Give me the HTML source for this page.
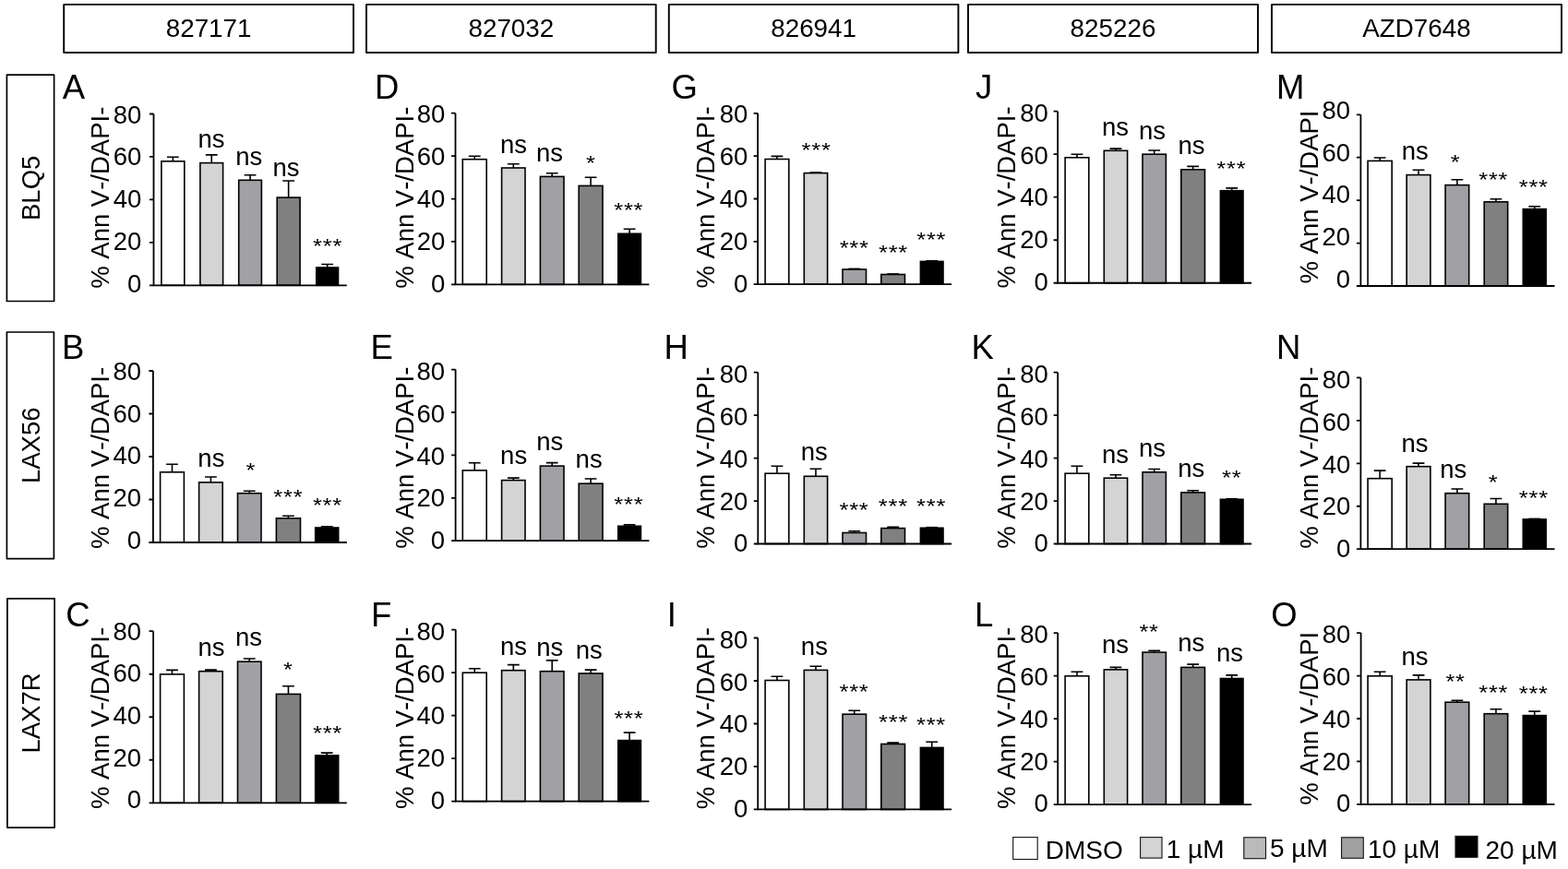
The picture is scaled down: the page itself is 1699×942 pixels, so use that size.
<!DOCTYPE html>
<html><head><meta charset="utf-8"><title>Figure</title>
<style>
html,body{margin:0;padding:0;background:#fff;}
body{width:1699px;height:942px;overflow:hidden;}
svg{display:block;}
text{font-kerning:none;}
.t{font-family:"Liberation Sans",Arial,sans-serif;font-size:27.5px;fill:#000;}
.h{font-family:"Liberation Sans",Arial,sans-serif;font-size:27.8px;fill:#000;}
.g{font-family:"Liberation Sans",Arial,sans-serif;font-size:28.0px;fill:#000;}
.lt{font-family:"Liberation Sans",Arial,sans-serif;font-size:36.5px;fill:#000;}
.hb{fill:none;stroke:#000;stroke-width:1.9;stroke-linejoin:round;}
.rb{fill:none;stroke:#000;stroke-width:1.7;stroke-linejoin:round;}
.bar{stroke:#000;stroke-width:1.6;}
.eb{fill:none;stroke:#000;stroke-width:1.6;}
.ax{fill:none;stroke:#000;stroke-width:1.8;}
.lb{stroke:#1a1a1a;stroke-width:1.15;}
</style></head>
<body><svg width="1699" height="942" viewBox="0 0 1699 942">
<rect x="69.2" y="4.9" width="313.8" height="52.1" class="hb"/>
<text x="226.1" y="40.4" class="h" text-anchor="middle" textLength="92.77" lengthAdjust="spacing">827171</text>
<rect x="397" y="4.9" width="313.7" height="52.1" class="hb"/>
<text x="553.85" y="40.4" class="h" text-anchor="middle" textLength="92.77" lengthAdjust="spacing">827032</text>
<rect x="724.8" y="4.9" width="313.6" height="52.1" class="hb"/>
<text x="881.6" y="40.4" class="h" text-anchor="middle" textLength="92.77" lengthAdjust="spacing">826941</text>
<rect x="1049" y="4.9" width="314" height="52.1" class="hb"/>
<text x="1206" y="40.4" class="h" text-anchor="middle" textLength="92.77" lengthAdjust="spacing">825226</text>
<rect x="1378" y="4.9" width="314" height="52.1" class="hb"/>
<text x="1535" y="40.4" class="h" text-anchor="middle" textLength="117.44" lengthAdjust="spacing">AZD7648</text>
<rect x="7.4" y="81.2" width="51.2" height="245.3" class="rb"/>
<text transform="translate(43,203.85) rotate(-90)" class="t" text-anchor="middle" textLength="70.32" lengthAdjust="spacing">BLQ5</text>
<rect x="7.4" y="360" width="51" height="245.6" class="rb"/>
<text transform="translate(43,482.8) rotate(-90)" class="t" text-anchor="middle" textLength="82.57" lengthAdjust="spacing">LAX56</text>
<rect x="7.9" y="648.9" width="51.2" height="248.2" class="rb"/>
<text transform="translate(43,773) rotate(-90)" class="t" text-anchor="middle" textLength="87.13" lengthAdjust="spacing">LAX7R</text>
<path d="M187.35 174.8V170.3M180.95 170.3H193.75" class="eb"/>
<rect x="174.9" y="174.8" width="24.9" height="134.5" fill="#ffffff" class="bar"/>
<path d="M229.25 176.6V167.9M222.85 167.9H235.65" class="eb"/>
<rect x="216.9" y="176.6" width="24.7" height="132.7" fill="#d4d4d4" class="bar"/>
<text x="228.94" y="160" class="t" text-anchor="middle" textLength="29.04" lengthAdjust="spacing">ns</text>
<path d="M271.05 195.3V189.7M264.65 189.7H277.45" class="eb"/>
<rect x="258.7" y="195.3" width="24.7" height="114" fill="#a1a0a5" class="bar"/>
<text x="269.69" y="179.2" class="t" text-anchor="middle" textLength="29.04" lengthAdjust="spacing">ns</text>
<path d="M312.65 214.1V196M306.25 196H319.05" class="eb"/>
<rect x="300.2" y="214.1" width="24.9" height="95.2" fill="#808080" class="bar"/>
<text x="309.99" y="191.2" class="t" text-anchor="middle" textLength="29.04" lengthAdjust="spacing">ns</text>
<path d="M354.65 290V286.5M348.25 286.5H361.05" class="eb"/>
<rect x="342.8" y="290" width="23.7" height="19.3" fill="#000000" class="bar"/>
<text transform="translate(339.11,273.61) scale(0.93,0.82)" x="0 11.45 22.9" y="0" class="t">***</text>
<path d="M166.5 123.5V309.3H375.8" class="ax"/>
<path d="M162 309.3H166.5M162 262.85H166.5M162 216.4H166.5M162 169.95H166.5M162 123.5H166.5" class="ax"/>
<text x="153.27" y="316.76" class="t" text-anchor="end">0</text>
<text x="153.27" y="270.97" class="t" text-anchor="end" textLength="30.59" lengthAdjust="spacing">20</text>
<text x="153.27" y="225.19" class="t" text-anchor="end" textLength="30.59" lengthAdjust="spacing">40</text>
<text x="153.27" y="179.4" class="t" text-anchor="end" textLength="30.59" lengthAdjust="spacing">60</text>
<text x="153.27" y="133.61" class="t" text-anchor="end" textLength="30.59" lengthAdjust="spacing">80</text>
<text transform="translate(117.6,312.79) rotate(-90)" class="t" textLength="197.15" lengthAdjust="spacing">% Ann V-/DAPI-</text>
<text x="67.83" y="107" class="lt">A</text>
<path d="M514.25 172.7V169.3M507.85 169.3H520.65" class="eb"/>
<rect x="501.3" y="172.7" width="25.9" height="135.65" fill="#ffffff" class="bar"/>
<path d="M556.3 182V177.8M549.9 177.8H562.7" class="eb"/>
<rect x="543.6" y="182" width="25.4" height="126.35" fill="#d4d4d4" class="bar"/>
<text x="556.49" y="166.2" class="t" text-anchor="middle" textLength="29.04" lengthAdjust="spacing">ns</text>
<path d="M598.2 191.4V187.8M591.8 187.8H604.6" class="eb"/>
<rect x="585.4" y="191.4" width="25.6" height="116.95" fill="#a1a0a5" class="bar"/>
<text x="595.59" y="175.4" class="t" text-anchor="middle" textLength="29.04" lengthAdjust="spacing">ns</text>
<path d="M640.1 201.4V192.2M633.7 192.2H646.5" class="eb"/>
<rect x="627.2" y="201.4" width="25.8" height="106.95" fill="#808080" class="bar"/>
<text transform="translate(635.01,183.91) scale(0.93,0.82)" x="0" y="0" class="t">*</text>
<path d="M682.1 253.3V248.3M675.7 248.3H688.5" class="eb"/>
<rect x="669.8" y="253.3" width="24.6" height="55.05" fill="#000000" class="bar"/>
<text transform="translate(665.26,235.21) scale(0.93,0.82)" x="0 11.45 22.9" y="0" class="t">***</text>
<path d="M493.5 122.7V308.35H703.4" class="ax"/>
<path d="M489 308.35H493.5M489 261.94H493.5M489 215.53H493.5M489 169.11H493.5M489 122.7H493.5" class="ax"/>
<text x="482.32" y="316.66" class="t" text-anchor="end">0</text>
<text x="482.32" y="270.86" class="t" text-anchor="end" textLength="30.59" lengthAdjust="spacing">20</text>
<text x="482.32" y="225.06" class="t" text-anchor="end" textLength="30.59" lengthAdjust="spacing">40</text>
<text x="482.32" y="179.26" class="t" text-anchor="end" textLength="30.59" lengthAdjust="spacing">60</text>
<text x="482.32" y="133.46" class="t" text-anchor="end" textLength="30.59" lengthAdjust="spacing">80</text>
<text transform="translate(447.9,312.79) rotate(-90)" class="t" textLength="197.15" lengthAdjust="spacing">% Ann V-/DAPI-</text>
<text x="405.91" y="106.7" class="lt">D</text>
<path d="M841.95 172.5V169.4M835.55 169.4H848.35" class="eb"/>
<rect x="829.1" y="172.5" width="25.7" height="135.7" fill="#ffffff" class="bar"/>
<path d="M877.55 187H890.35" class="eb"/>
<rect x="871.3" y="187.6" width="25.3" height="120.6" fill="#d4d4d4" class="bar"/>
<text transform="translate(868.61,170.11) scale(0.93,0.82)" x="0 11.45 22.9" y="0" class="t">***</text>
<path d="M919.35 291.4H932.15" class="eb"/>
<rect x="913" y="292" width="25.5" height="16.2" fill="#a1a0a5" class="bar"/>
<text transform="translate(909.66,275.71) scale(0.93,0.82)" x="0 11.45 22.9" y="0" class="t">***</text>
<path d="M961.25 297H974.05" class="eb"/>
<rect x="954.8" y="297.5" width="25.7" height="10.7" fill="#808080" class="bar"/>
<text transform="translate(952.06,280.81) scale(0.93,0.82)" x="0 11.45 22.9" y="0" class="t">***</text>
<path d="M1003.3 282.8H1016.1" class="eb"/>
<rect x="997.4" y="283.4" width="24.6" height="24.8" fill="#000000" class="bar"/>
<text transform="translate(993.26,267.31) scale(0.93,0.82)" x="0 11.45 22.9" y="0" class="t">***</text>
<path d="M821.1 122.8V308.2H1031.1" class="ax"/>
<path d="M816.6 308.2H821.1M816.6 261.85H821.1M816.6 215.5H821.1M816.6 169.15H821.1M816.6 122.8H821.1" class="ax"/>
<text x="810.42" y="316.71" class="t" text-anchor="end">0</text>
<text x="810.42" y="270.88" class="t" text-anchor="end" textLength="30.59" lengthAdjust="spacing">20</text>
<text x="810.42" y="225.06" class="t" text-anchor="end" textLength="30.59" lengthAdjust="spacing">40</text>
<text x="810.42" y="179.24" class="t" text-anchor="end" textLength="30.59" lengthAdjust="spacing">60</text>
<text x="810.42" y="133.41" class="t" text-anchor="end" textLength="30.59" lengthAdjust="spacing">80</text>
<text transform="translate(774.1,312.59) rotate(-90)" class="t" textLength="197.15" lengthAdjust="spacing">% Ann V-/DAPI-</text>
<text x="727.47" y="106.8" class="lt">G</text>
<path d="M1166.95 170.8V167.2M1160.55 167.2H1173.35" class="eb"/>
<rect x="1154.1" y="170.8" width="25.7" height="135.95" fill="#ffffff" class="bar"/>
<path d="M1208.95 163.3V161.1M1202.55 161.1H1215.35" class="eb"/>
<rect x="1196.3" y="163.3" width="25.3" height="143.45" fill="#d4d4d4" class="bar"/>
<text x="1208.49" y="147.2" class="t" text-anchor="middle" textLength="29.04" lengthAdjust="spacing">ns</text>
<path d="M1250.7 167.2V163M1244.3 163H1257.1" class="eb"/>
<rect x="1238" y="167.2" width="25.4" height="139.55" fill="#a1a0a5" class="bar"/>
<text x="1248.44" y="151.1" class="t" text-anchor="middle" textLength="29.04" lengthAdjust="spacing">ns</text>
<path d="M1292.65 183.8V180.4M1286.25 180.4H1299.05" class="eb"/>
<rect x="1279.8" y="183.8" width="25.7" height="122.95" fill="#808080" class="bar"/>
<text x="1290.94" y="167.3" class="t" text-anchor="middle" textLength="29.04" lengthAdjust="spacing">ns</text>
<path d="M1334.7 206.7V203.9M1328.3 203.9H1341.1" class="eb"/>
<rect x="1322.4" y="206.7" width="24.6" height="100.05" fill="#000000" class="bar"/>
<text transform="translate(1318.36,190.21) scale(0.93,0.82)" x="0 11.45 22.9" y="0" class="t">***</text>
<path d="M1146.1 120.7V306.75H1356.1" class="ax"/>
<path d="M1141.6 306.75H1146.1M1141.6 260.24H1146.1M1141.6 213.72H1146.1M1141.6 167.21H1146.1M1141.6 120.7H1146.1" class="ax"/>
<text x="1135.87" y="315.21" class="t" text-anchor="end">0</text>
<text x="1135.87" y="269.35" class="t" text-anchor="end" textLength="30.59" lengthAdjust="spacing">20</text>
<text x="1135.87" y="223.49" class="t" text-anchor="end" textLength="30.59" lengthAdjust="spacing">40</text>
<text x="1135.87" y="177.62" class="t" text-anchor="end" textLength="30.59" lengthAdjust="spacing">60</text>
<text x="1135.87" y="131.76" class="t" text-anchor="end" textLength="30.59" lengthAdjust="spacing">80</text>
<text transform="translate(1100,312.49) rotate(-90)" class="t" textLength="197.15" lengthAdjust="spacing">% Ann V-/DAPI-</text>
<text x="1057.02" y="107" class="lt">J</text>
<path d="M1495.15 174.4V171M1488.75 171H1501.55" class="eb"/>
<rect x="1482.1" y="174.4" width="26.1" height="135.6" fill="#ffffff" class="bar"/>
<path d="M1537.05 189.6V184.3M1530.65 184.3H1543.45" class="eb"/>
<rect x="1524.2" y="189.6" width="25.7" height="120.4" fill="#d4d4d4" class="bar"/>
<text x="1533.24" y="173.2" class="t" text-anchor="middle" textLength="29.04" lengthAdjust="spacing">ns</text>
<path d="M1578.9 200.6V194.8M1572.5 194.8H1585.3" class="eb"/>
<rect x="1566.1" y="200.6" width="25.6" height="109.4" fill="#a1a0a5" class="bar"/>
<text transform="translate(1571.71,182.71) scale(0.93,0.82)" x="0" y="0" class="t">*</text>
<path d="M1620.95 218.8V215.8M1614.55 215.8H1627.35" class="eb"/>
<rect x="1608.2" y="218.8" width="25.5" height="91.2" fill="#808080" class="bar"/>
<text transform="translate(1602.26,201.51) scale(0.93,0.82)" x="0 11.45 22.9" y="0" class="t">***</text>
<path d="M1662.75 226.6V223.8M1656.35 223.8H1669.15" class="eb"/>
<rect x="1650.3" y="226.6" width="24.9" height="83.4" fill="#000000" class="bar"/>
<text transform="translate(1645.81,209.71) scale(0.93,0.82)" x="0 11.45 22.9" y="0" class="t">***</text>
<path d="M1474.4 124.3V310H1684.5" class="ax"/>
<path d="M1469.9 310H1474.4M1469.9 263.57H1474.4M1469.9 217.15H1474.4M1469.9 170.72H1474.4M1469.9 124.3H1474.4" class="ax"/>
<text x="1463.17" y="311.66" class="t" text-anchor="end">0</text>
<text x="1463.17" y="266.07" class="t" text-anchor="end" textLength="30.59" lengthAdjust="spacing">20</text>
<text x="1463.17" y="220.48" class="t" text-anchor="end" textLength="30.59" lengthAdjust="spacing">40</text>
<text x="1463.17" y="174.9" class="t" text-anchor="end" textLength="30.59" lengthAdjust="spacing">60</text>
<text x="1463.17" y="129.31" class="t" text-anchor="end" textLength="30.59" lengthAdjust="spacing">80</text>
<text transform="translate(1428,307.49) rotate(-90)" class="t" textLength="187.99" lengthAdjust="spacing">% Ann V-/DAPI</text>
<text x="1382.91" y="106.8" class="lt">M</text>
<path d="M186.5 511.8V503.2M180.1 503.2H192.9" class="eb"/>
<rect x="173.6" y="511.8" width="25.8" height="76.2" fill="#ffffff" class="bar"/>
<path d="M228.4 522.9V517M222 517H234.8" class="eb"/>
<rect x="215.6" y="522.9" width="25.6" height="65.1" fill="#d4d4d4" class="bar"/>
<text x="228.89" y="505.6" class="t" text-anchor="middle" textLength="29.04" lengthAdjust="spacing">ns</text>
<path d="M270.25 534.7V532.2M263.85 532.2H276.65" class="eb"/>
<rect x="257.5" y="534.7" width="25.5" height="53.3" fill="#a1a0a5" class="bar"/>
<text transform="translate(266.56,517.41) scale(0.93,0.82)" x="0" y="0" class="t">*</text>
<path d="M312.45 561.8V559.3M306.05 559.3H318.85" class="eb"/>
<rect x="299.4" y="561.8" width="26.1" height="26.2" fill="#808080" class="bar"/>
<text transform="translate(296.36,545.91) scale(0.93,0.82)" x="0 11.45 22.9" y="0" class="t">***</text>
<path d="M354.2 572V570.9M347.8 570.9H360.6" class="eb"/>
<rect x="341.7" y="572" width="25" height="16" fill="#000000" class="bar"/>
<text transform="translate(338.96,555.41) scale(0.93,0.82)" x="0 11.45 22.9" y="0" class="t">***</text>
<path d="M165.9 402V588H375.8" class="ax"/>
<path d="M161.4 588H165.9M161.4 541.5H165.9M161.4 495H165.9M161.4 448.5H165.9M161.4 402H165.9" class="ax"/>
<text x="153.07" y="594.61" class="t" text-anchor="end">0</text>
<text x="153.07" y="549" class="t" text-anchor="end" textLength="30.59" lengthAdjust="spacing">20</text>
<text x="153.07" y="503.38" class="t" text-anchor="end" textLength="30.59" lengthAdjust="spacing">40</text>
<text x="153.07" y="457.77" class="t" text-anchor="end" textLength="30.59" lengthAdjust="spacing">60</text>
<text x="153.07" y="412.16" class="t" text-anchor="end" textLength="30.59" lengthAdjust="spacing">80</text>
<text transform="translate(117.6,594.99) rotate(-90)" class="t" textLength="197.15" lengthAdjust="spacing">% Ann V-/DAPI-</text>
<text x="67.11" y="388.9" class="lt">B</text>
<path d="M514.25 509.9V501.8M507.85 501.8H520.65" class="eb"/>
<rect x="501.3" y="509.9" width="25.9" height="76.3" fill="#ffffff" class="bar"/>
<path d="M556.3 520.6V518.1M549.9 518.1H562.7" class="eb"/>
<rect x="543.6" y="520.6" width="25.4" height="65.6" fill="#d4d4d4" class="bar"/>
<text x="556.64" y="503.2" class="t" text-anchor="middle" textLength="29.04" lengthAdjust="spacing">ns</text>
<path d="M598.2 505.1V501.6M591.8 501.6H604.6" class="eb"/>
<rect x="585.4" y="505.1" width="25.6" height="81.1" fill="#a1a0a5" class="bar"/>
<text x="595.79" y="488.1" class="t" text-anchor="middle" textLength="29.04" lengthAdjust="spacing">ns</text>
<path d="M640.1 524.2V519M633.7 519H646.5" class="eb"/>
<rect x="627.2" y="524.2" width="25.8" height="62" fill="#808080" class="bar"/>
<text x="638.14" y="507.1" class="t" text-anchor="middle" textLength="29.04" lengthAdjust="spacing">ns</text>
<path d="M682.1 570.3V568.9M675.7 568.9H688.5" class="eb"/>
<rect x="669.8" y="570.3" width="24.6" height="15.9" fill="#000000" class="bar"/>
<text transform="translate(665.36,554.31) scale(0.93,0.82)" x="0 11.45 22.9" y="0" class="t">***</text>
<path d="M493.6 400.6V586.2H703.4" class="ax"/>
<path d="M489.1 586.2H493.6M489.1 539.8H493.6M489.1 493.4H493.6M489.1 447H493.6M489.1 400.6H493.6" class="ax"/>
<text x="482.12" y="595.21" class="t" text-anchor="end">0</text>
<text x="482.12" y="549.45" class="t" text-anchor="end" textLength="30.59" lengthAdjust="spacing">20</text>
<text x="482.12" y="503.69" class="t" text-anchor="end" textLength="30.59" lengthAdjust="spacing">40</text>
<text x="482.12" y="457.92" class="t" text-anchor="end" textLength="30.59" lengthAdjust="spacing">60</text>
<text x="482.12" y="412.16" class="t" text-anchor="end" textLength="30.59" lengthAdjust="spacing">80</text>
<text transform="translate(447.8,594.79) rotate(-90)" class="t" textLength="197.15" lengthAdjust="spacing">% Ann V-/DAPI-</text>
<text x="401.41" y="388.9" class="lt">E</text>
<path d="M841.95 513.2V505.2M835.55 505.2H848.35" class="eb"/>
<rect x="829.1" y="513.2" width="25.7" height="76.3" fill="#ffffff" class="bar"/>
<path d="M883.95 516.3V508.2M877.55 508.2H890.35" class="eb"/>
<rect x="871.3" y="516.3" width="25.3" height="73.2" fill="#d4d4d4" class="bar"/>
<text x="882.24" y="499.1" class="t" text-anchor="middle" textLength="29.04" lengthAdjust="spacing">ns</text>
<path d="M925.75 577.5V575.8M919.35 575.8H932.15" class="eb"/>
<rect x="913" y="577.5" width="25.5" height="12" fill="#a1a0a5" class="bar"/>
<text transform="translate(909.56,559.71) scale(0.93,0.82)" x="0 11.45 22.9" y="0" class="t">***</text>
<path d="M967.65 572.6V571.4M961.25 571.4H974.05" class="eb"/>
<rect x="954.8" y="572.6" width="25.7" height="16.9" fill="#808080" class="bar"/>
<text transform="translate(951.86,555.71) scale(0.93,0.82)" x="0 11.45 22.9" y="0" class="t">***</text>
<path d="M1003.3 571.7H1016.1" class="eb"/>
<rect x="997.4" y="572.3" width="24.6" height="17.2" fill="#000000" class="bar"/>
<text transform="translate(993.11,555.71) scale(0.93,0.82)" x="0 11.45 22.9" y="0" class="t">***</text>
<path d="M821.3 403.7V589.5H1031.1" class="ax"/>
<path d="M816.8 589.5H821.3M816.8 543.05H821.3M816.8 496.6H821.3M816.8 450.15H821.3M816.8 403.7H821.3" class="ax"/>
<text x="810.42" y="598.41" class="t" text-anchor="end">0</text>
<text x="810.42" y="552.64" class="t" text-anchor="end" textLength="30.59" lengthAdjust="spacing">20</text>
<text x="810.42" y="506.86" class="t" text-anchor="end" textLength="30.59" lengthAdjust="spacing">40</text>
<text x="810.42" y="461.08" class="t" text-anchor="end" textLength="30.59" lengthAdjust="spacing">60</text>
<text x="810.42" y="415.31" class="t" text-anchor="end" textLength="30.59" lengthAdjust="spacing">80</text>
<text transform="translate(774,594.79) rotate(-90)" class="t" textLength="197.15" lengthAdjust="spacing">% Ann V-/DAPI-</text>
<text x="719.51" y="388.9" class="lt">H</text>
<path d="M1166.95 513.2V505.2M1160.55 505.2H1173.35" class="eb"/>
<rect x="1154.1" y="513.2" width="25.7" height="76.3" fill="#ffffff" class="bar"/>
<path d="M1208.95 518.2V514.8M1202.55 514.8H1215.35" class="eb"/>
<rect x="1196.3" y="518.2" width="25.3" height="71.3" fill="#d4d4d4" class="bar"/>
<text x="1208.49" y="501.6" class="t" text-anchor="middle" textLength="29.04" lengthAdjust="spacing">ns</text>
<path d="M1250.7 511.8V508.5M1244.3 508.5H1257.1" class="eb"/>
<rect x="1238" y="511.8" width="25.4" height="77.7" fill="#a1a0a5" class="bar"/>
<text x="1248.44" y="495.1" class="t" text-anchor="middle" textLength="29.04" lengthAdjust="spacing">ns</text>
<path d="M1292.65 533.9V531.7M1286.25 531.7H1299.05" class="eb"/>
<rect x="1279.8" y="533.9" width="25.7" height="55.6" fill="#808080" class="bar"/>
<text x="1290.79" y="517.4" class="t" text-anchor="middle" textLength="29.04" lengthAdjust="spacing">ns</text>
<path d="M1328.3 540.7H1341.1" class="eb"/>
<rect x="1322.4" y="541.3" width="24.6" height="48.2" fill="#000000" class="bar"/>
<text transform="translate(1323.99,524.71) scale(0.93,0.82)" x="0 11.45" y="0" class="t">**</text>
<path d="M1146.2 403.7V589.5H1356.1" class="ax"/>
<path d="M1141.7 589.5H1146.2M1141.7 543.05H1146.2M1141.7 496.6H1146.2M1141.7 450.15H1146.2M1141.7 403.7H1146.2" class="ax"/>
<text x="1135.87" y="598.41" class="t" text-anchor="end">0</text>
<text x="1135.87" y="552.65" class="t" text-anchor="end" textLength="30.59" lengthAdjust="spacing">20</text>
<text x="1135.87" y="506.88" class="t" text-anchor="end" textLength="30.59" lengthAdjust="spacing">40</text>
<text x="1135.87" y="461.12" class="t" text-anchor="end" textLength="30.59" lengthAdjust="spacing">60</text>
<text x="1135.87" y="415.36" class="t" text-anchor="end" textLength="30.59" lengthAdjust="spacing">80</text>
<text transform="translate(1100,594.79) rotate(-90)" class="t" textLength="197.15" lengthAdjust="spacing">% Ann V-/DAPI-</text>
<text x="1052.61" y="389" class="lt">K</text>
<path d="M1495.15 518.7V510.1M1488.75 510.1H1501.55" class="eb"/>
<rect x="1482.1" y="518.7" width="26.1" height="76.5" fill="#ffffff" class="bar"/>
<path d="M1537.05 505.7V502.1M1530.65 502.1H1543.45" class="eb"/>
<rect x="1524.2" y="505.7" width="25.7" height="89.5" fill="#d4d4d4" class="bar"/>
<text x="1533.09" y="489.6" class="t" text-anchor="middle" textLength="29.04" lengthAdjust="spacing">ns</text>
<path d="M1578.9 534.7V530M1572.5 530H1585.3" class="eb"/>
<rect x="1566.1" y="534.7" width="25.6" height="60.5" fill="#a1a0a5" class="bar"/>
<text x="1574.69" y="518.1" class="t" text-anchor="middle" textLength="29.04" lengthAdjust="spacing">ns</text>
<path d="M1620.95 546.3V540.5M1614.55 540.5H1627.35" class="eb"/>
<rect x="1608.2" y="546.3" width="25.5" height="48.9" fill="#808080" class="bar"/>
<text transform="translate(1612.66,530.11) scale(0.93,0.82)" x="0" y="0" class="t">*</text>
<path d="M1656.35 562.4H1669.15" class="eb"/>
<rect x="1650.3" y="562.9" width="24.9" height="32.3" fill="#000000" class="bar"/>
<text transform="translate(1645.86,546.91) scale(0.93,0.82)" x="0 11.45 22.9" y="0" class="t">***</text>
<path d="M1474.4 409.4V595.2H1684.5" class="ax"/>
<path d="M1469.9 595.2H1474.4M1469.9 548.75H1474.4M1469.9 502.3H1474.4M1469.9 455.85H1474.4M1469.9 409.4H1474.4" class="ax"/>
<text x="1463.22" y="604.06" class="t" text-anchor="end">0</text>
<text x="1463.22" y="558.37" class="t" text-anchor="end" textLength="30.59" lengthAdjust="spacing">20</text>
<text x="1463.22" y="512.69" class="t" text-anchor="end" textLength="30.59" lengthAdjust="spacing">40</text>
<text x="1463.22" y="467" class="t" text-anchor="end" textLength="30.59" lengthAdjust="spacing">60</text>
<text x="1463.22" y="421.31" class="t" text-anchor="end" textLength="30.59" lengthAdjust="spacing">80</text>
<text transform="translate(1428.4,594.79) rotate(-90)" class="t" textLength="197.15" lengthAdjust="spacing">% Ann V-/DAPI-</text>
<text x="1383.01" y="389.1" class="lt">N</text>
<path d="M186.5 730.9V726.4M180.1 726.4H192.9" class="eb"/>
<rect x="173.6" y="730.9" width="25.8" height="139.4" fill="#ffffff" class="bar"/>
<path d="M228.4 727.7V726.1M222 726.1H234.8" class="eb"/>
<rect x="215.6" y="727.7" width="25.6" height="142.6" fill="#d4d4d4" class="bar"/>
<text x="229.04" y="711" class="t" text-anchor="middle" textLength="29.04" lengthAdjust="spacing">ns</text>
<path d="M270.25 717.2V714M263.85 714H276.65" class="eb"/>
<rect x="257.5" y="717.2" width="25.5" height="153.1" fill="#a1a0a5" class="bar"/>
<text x="269.44" y="700.4" class="t" text-anchor="middle" textLength="29.04" lengthAdjust="spacing">ns</text>
<path d="M312.45 752.4V743.8M306.05 743.8H318.85" class="eb"/>
<rect x="299.4" y="752.4" width="26.1" height="117.9" fill="#808080" class="bar"/>
<text transform="translate(307.01,732.91) scale(0.93,0.82)" x="0" y="0" class="t">*</text>
<path d="M354.2 818.9V816.1M347.8 816.1H360.6" class="eb"/>
<rect x="341.7" y="818.9" width="25" height="51.4" fill="#000000" class="bar"/>
<text transform="translate(339.06,802.31) scale(0.93,0.82)" x="0 11.45 22.9" y="0" class="t">***</text>
<path d="M166.1 684.2V870.3H375.8" class="ax"/>
<path d="M161.6 870.3H166.1M161.6 823.77H166.1M161.6 777.25H166.1M161.6 730.73H166.1M161.6 684.2H166.1" class="ax"/>
<text x="153.07" y="876.41" class="t" text-anchor="end">0</text>
<text x="153.07" y="830.72" class="t" text-anchor="end" textLength="30.59" lengthAdjust="spacing">20</text>
<text x="153.07" y="785.04" class="t" text-anchor="end" textLength="30.59" lengthAdjust="spacing">40</text>
<text x="153.07" y="739.35" class="t" text-anchor="end" textLength="30.59" lengthAdjust="spacing">60</text>
<text x="153.07" y="693.66" class="t" text-anchor="end" textLength="30.59" lengthAdjust="spacing">80</text>
<text transform="translate(117.6,876.99) rotate(-90)" class="t" textLength="197.15" lengthAdjust="spacing">% Ann V-/DAPI-</text>
<text x="71.14" y="679.1" class="lt">C</text>
<path d="M514.25 729.2V724.8M507.85 724.8H520.65" class="eb"/>
<rect x="501.3" y="729.2" width="25.9" height="139.4" fill="#ffffff" class="bar"/>
<path d="M556.3 726.7V720.6M549.9 720.6H562.7" class="eb"/>
<rect x="543.6" y="726.7" width="25.4" height="141.9" fill="#d4d4d4" class="bar"/>
<text x="556.54" y="710" class="t" text-anchor="middle" textLength="29.04" lengthAdjust="spacing">ns</text>
<path d="M598.2 727.7V715.9M591.8 715.9H604.6" class="eb"/>
<rect x="585.4" y="727.7" width="25.6" height="140.9" fill="#a1a0a5" class="bar"/>
<text x="595.79" y="710.6" class="t" text-anchor="middle" textLength="29.04" lengthAdjust="spacing">ns</text>
<path d="M640.1 730V726.1M633.7 726.1H646.5" class="eb"/>
<rect x="627.2" y="730" width="25.8" height="138.6" fill="#808080" class="bar"/>
<text x="638.29" y="713.7" class="t" text-anchor="middle" textLength="29.04" lengthAdjust="spacing">ns</text>
<path d="M682.1 802.6V794.1M675.7 794.1H688.5" class="eb"/>
<rect x="669.8" y="802.6" width="24.6" height="66" fill="#000000" class="bar"/>
<text transform="translate(665.41,786.01) scale(0.93,0.82)" x="0 11.45 22.9" y="0" class="t">***</text>
<path d="M493.75 682.6V868.6H703.4" class="ax"/>
<path d="M489.25 868.6H493.75M489.25 822.1H493.75M489.25 775.6H493.75M489.25 729.1H493.75M489.25 682.6H493.75" class="ax"/>
<text x="482.12" y="877.11" class="t" text-anchor="end">0</text>
<text x="482.12" y="831.25" class="t" text-anchor="end" textLength="30.59" lengthAdjust="spacing">20</text>
<text x="482.12" y="785.38" class="t" text-anchor="end" textLength="30.59" lengthAdjust="spacing">40</text>
<text x="482.12" y="739.52" class="t" text-anchor="end" textLength="30.59" lengthAdjust="spacing">60</text>
<text x="482.12" y="693.66" class="t" text-anchor="end" textLength="30.59" lengthAdjust="spacing">80</text>
<text transform="translate(447.8,876.99) rotate(-90)" class="t" textLength="197.15" lengthAdjust="spacing">% Ann V-/DAPI-</text>
<text x="402.01" y="678.8" class="lt">F</text>
<path d="M841.95 737.5V733.3M835.55 733.3H848.35" class="eb"/>
<rect x="829.1" y="737.5" width="25.7" height="139.95" fill="#ffffff" class="bar"/>
<path d="M883.95 726.4V722.3M877.55 722.3H890.35" class="eb"/>
<rect x="871.3" y="726.4" width="25.3" height="151.05" fill="#d4d4d4" class="bar"/>
<text x="882.39" y="709.7" class="t" text-anchor="middle" textLength="29.04" lengthAdjust="spacing">ns</text>
<path d="M925.75 774.2V770.3M919.35 770.3H932.15" class="eb"/>
<rect x="913" y="774.2" width="25.5" height="103.25" fill="#a1a0a5" class="bar"/>
<text transform="translate(909.56,757.41) scale(0.93,0.82)" x="0 11.45 22.9" y="0" class="t">***</text>
<path d="M967.65 806.5V805.1M961.25 805.1H974.05" class="eb"/>
<rect x="954.8" y="806.5" width="25.7" height="70.95" fill="#808080" class="bar"/>
<text transform="translate(952.11,790.21) scale(0.93,0.82)" x="0 11.45 22.9" y="0" class="t">***</text>
<path d="M1009.7 810.4V804.3M1003.3 804.3H1016.1" class="eb"/>
<rect x="997.4" y="810.4" width="24.6" height="67.05" fill="#000000" class="bar"/>
<text transform="translate(993.06,793.21) scale(0.93,0.82)" x="0 11.45 22.9" y="0" class="t">***</text>
<path d="M821.2 691.5V877.45H1031.1" class="ax"/>
<path d="M816.7 877.45H821.2M816.7 830.96H821.2M816.7 784.48H821.2M816.7 737.99H821.2M816.7 691.5H821.2" class="ax"/>
<text x="810.37" y="885.66" class="t" text-anchor="end">0</text>
<text x="810.37" y="840.01" class="t" text-anchor="end" textLength="30.59" lengthAdjust="spacing">20</text>
<text x="810.37" y="794.36" class="t" text-anchor="end" textLength="30.59" lengthAdjust="spacing">40</text>
<text x="810.37" y="748.71" class="t" text-anchor="end" textLength="30.59" lengthAdjust="spacing">60</text>
<text x="810.37" y="703.06" class="t" text-anchor="end" textLength="30.59" lengthAdjust="spacing">80</text>
<text transform="translate(774,877.19) rotate(-90)" class="t" textLength="197.15" lengthAdjust="spacing">% Ann V-/DAPI-</text>
<text x="722.64" y="678.8" class="lt">I</text>
<path d="M1166.95 732.8V728.3M1160.55 728.3H1173.35" class="eb"/>
<rect x="1154.1" y="732.8" width="25.7" height="139.25" fill="#ffffff" class="bar"/>
<path d="M1208.95 725.9V723.4M1202.55 723.4H1215.35" class="eb"/>
<rect x="1196.3" y="725.9" width="25.3" height="146.15" fill="#d4d4d4" class="bar"/>
<text x="1208.49" y="708.3" class="t" text-anchor="middle" textLength="29.04" lengthAdjust="spacing">ns</text>
<path d="M1250.7 707.1V705.2M1244.3 705.2H1257.1" class="eb"/>
<rect x="1238" y="707.1" width="25.4" height="164.95" fill="#a1a0a5" class="bar"/>
<text transform="translate(1234.39,691.81) scale(0.93,0.82)" x="0 11.45" y="0" class="t">**</text>
<path d="M1292.65 723.4V720.1M1286.25 720.1H1299.05" class="eb"/>
<rect x="1279.8" y="723.4" width="25.7" height="148.65" fill="#808080" class="bar"/>
<text x="1290.79" y="705.6" class="t" text-anchor="middle" textLength="29.04" lengthAdjust="spacing">ns</text>
<path d="M1334.7 735.5V731.9M1328.3 731.9H1341.1" class="eb"/>
<rect x="1322.4" y="735.5" width="24.6" height="136.55" fill="#000000" class="bar"/>
<text x="1332.44" y="717.3" class="t" text-anchor="middle" textLength="29.04" lengthAdjust="spacing">ns</text>
<path d="M1146.2 686.1V872.05H1356.1" class="ax"/>
<path d="M1141.7 872.05H1146.2M1141.7 825.56H1146.2M1141.7 779.08H1146.2M1141.7 732.59H1146.2M1141.7 686.1H1146.2" class="ax"/>
<text x="1135.87" y="880.41" class="t" text-anchor="end">0</text>
<text x="1135.87" y="834.66" class="t" text-anchor="end" textLength="30.59" lengthAdjust="spacing">20</text>
<text x="1135.87" y="788.91" class="t" text-anchor="end" textLength="30.59" lengthAdjust="spacing">40</text>
<text x="1135.87" y="743.16" class="t" text-anchor="end" textLength="30.59" lengthAdjust="spacing">60</text>
<text x="1135.87" y="697.41" class="t" text-anchor="end" textLength="30.59" lengthAdjust="spacing">80</text>
<text transform="translate(1100,876.89) rotate(-90)" class="t" textLength="197.15" lengthAdjust="spacing">% Ann V-/DAPI-</text>
<text x="1055.91" y="678.8" class="lt">L</text>
<path d="M1495.15 732.8V728.3M1488.75 728.3H1501.55" class="eb"/>
<rect x="1482.1" y="732.8" width="26.1" height="139.05" fill="#ffffff" class="bar"/>
<path d="M1537.05 736.9V731.9M1530.65 731.9H1543.45" class="eb"/>
<rect x="1524.2" y="736.9" width="25.7" height="134.95" fill="#d4d4d4" class="bar"/>
<text x="1533.09" y="721" class="t" text-anchor="middle" textLength="29.04" lengthAdjust="spacing">ns</text>
<path d="M1578.9 761.2V759.3M1572.5 759.3H1585.3" class="eb"/>
<rect x="1566.1" y="761.2" width="25.6" height="110.65" fill="#a1a0a5" class="bar"/>
<text transform="translate(1566.39,745.61) scale(0.93,0.82)" x="0 11.45" y="0" class="t">**</text>
<path d="M1620.95 773.7V768.7M1614.55 768.7H1627.35" class="eb"/>
<rect x="1608.2" y="773.7" width="25.5" height="98.15" fill="#808080" class="bar"/>
<text transform="translate(1602.26,757.51) scale(0.93,0.82)" x="0 11.45 22.9" y="0" class="t">***</text>
<path d="M1662.75 775.6V771.1M1656.35 771.1H1669.15" class="eb"/>
<rect x="1650.3" y="775.6" width="24.9" height="96.25" fill="#000000" class="bar"/>
<text transform="translate(1645.76,759.01) scale(0.93,0.82)" x="0 11.45 22.9" y="0" class="t">***</text>
<path d="M1474.6 686.1V871.85H1684.5" class="ax"/>
<path d="M1470.1 871.85H1474.6M1470.1 825.41H1474.6M1470.1 778.98H1474.6M1470.1 732.54H1474.6M1470.1 686.1H1474.6" class="ax"/>
<text x="1463.27" y="880.36" class="t" text-anchor="end">0</text>
<text x="1463.27" y="834.52" class="t" text-anchor="end" textLength="30.59" lengthAdjust="spacing">20</text>
<text x="1463.27" y="788.68" class="t" text-anchor="end" textLength="30.59" lengthAdjust="spacing">40</text>
<text x="1463.27" y="742.85" class="t" text-anchor="end" textLength="30.59" lengthAdjust="spacing">60</text>
<text x="1463.27" y="697.01" class="t" text-anchor="end" textLength="30.59" lengthAdjust="spacing">80</text>
<text transform="translate(1428,872.79) rotate(-90)" class="t" textLength="187.99" lengthAdjust="spacing">% Ann V-/DAPI</text>
<text x="1377.18" y="679.1" class="lt">O</text>
<rect x="1097.7" y="907.6" width="26.5" height="23.9" fill="#ffffff" class="lb"/>
<text x="1132.7" y="931.4" class="g" textLength="84.00" lengthAdjust="spacing">DMSO</text>
<rect x="1235.6" y="907.6" width="23.4" height="22.5" fill="#d4d4d4" class="lb"/>
<text x="1263.65" y="929.8" class="g" textLength="62.81" lengthAdjust="spacing">1 µM</text>
<rect x="1347.8" y="907.8" width="23.7" height="22.9" fill="#bababa" class="lb"/>
<text x="1376" y="929" class="g" textLength="62.81" lengthAdjust="spacing">5 µM</text>
<rect x="1453.6" y="907.8" width="23.7" height="22.5" fill="#a0a0a0" class="lb"/>
<text x="1481.95" y="930" class="g" textLength="78.38" lengthAdjust="spacing">10 µM</text>
<rect x="1577" y="906.4" width="24" height="22.9" fill="#000000" class="lb"/>
<text x="1609.48" y="930.75" class="g" textLength="78.38" lengthAdjust="spacing">20 µM</text>
</svg></body></html>
